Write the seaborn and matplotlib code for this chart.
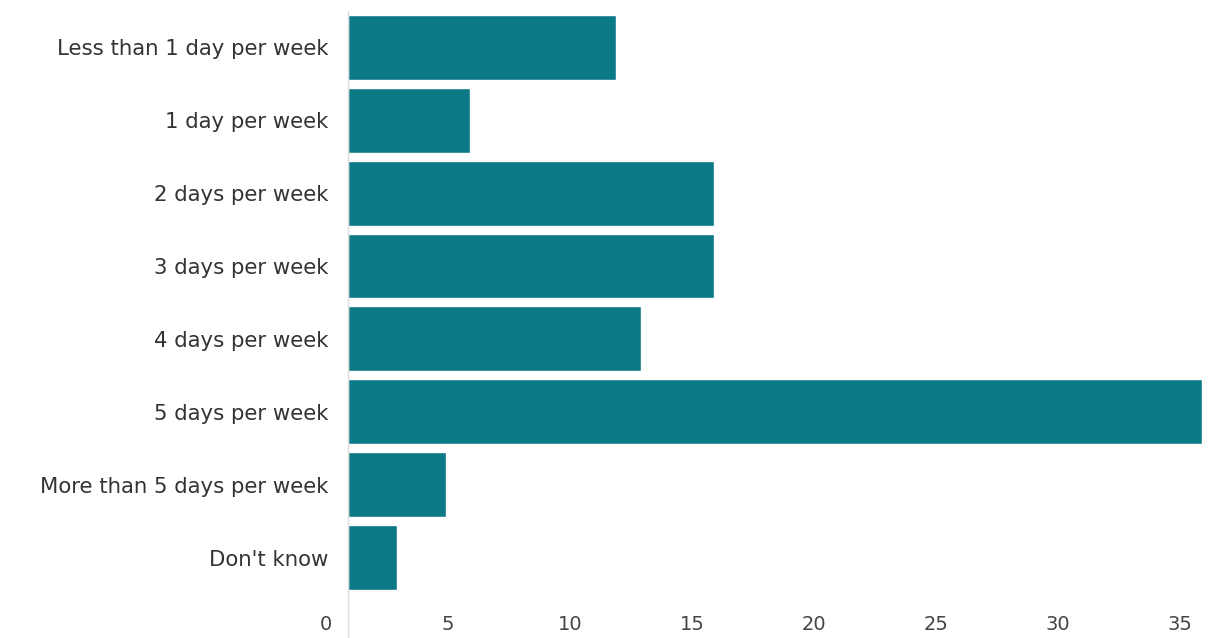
import pandas as pd
import matplotlib.pyplot as plt
import matplotlib.transforms as mtransforms
import seaborn as sns

# categories and share of respondents
categories = ["Less than 1 day per week", "1 day per week", "2 days per week",
              "3 days per week", "4 days per week", "5 days per week",
              "More than 5 days per week", "Don't know"]
values = [11, 5, 15, 15, 12, 35, 4, 2]
xticks = [0, 5, 10, 15, 20, 25, 30, 35]

df = pd.DataFrame({"Category": categories, "Value": values})

sns.set_style("white")
plt.rcParams["font.family"] = ["DejaVu Sans"]

fig = plt.figure(figsize=(12.17, 6.38), dpi=100)
ax = fig.add_axes([0.286, 0.069, 0.7017, 0.914])

sns.barplot(data=df, x="Value", y="Category", color="#0b7a86",
            saturation=1, width=0.89, ax=ax)

ax.set_xlim(0, 35)
ax.set_ylim(7.5, -0.5)
ax.set_xticks(xticks)
ax.set_xlabel("")
ax.set_ylabel("")
sns.despine(ax=ax, left=True, bottom=True)

# light axis line running down to the tick labels
ax.axvline(0, ymin=-0.075, ymax=1, color="#dddddd", lw=1, clip_on=False)

ax.tick_params(axis="y", length=0, pad=14, labelsize=15.3, labelcolor="#333333")
ax.tick_params(axis="x", length=0, pad=15, labelsize=14, labelcolor="#444444")

# x labels sit a little left of their ticks in the original
shift = mtransforms.ScaledTranslation(-22 / 100, 0, fig.dpi_scale_trans)
for lab in ax.get_xticklabels():
    lab.set_transform(lab.get_transform() + shift)

fig.savefig("out.png", dpi=100)
